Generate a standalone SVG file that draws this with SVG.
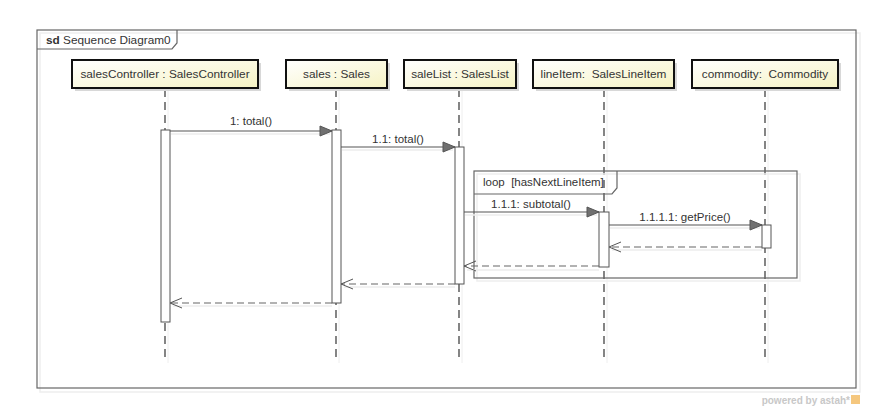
<svg xmlns="http://www.w3.org/2000/svg" width="893" height="415" viewBox="0 0 893 415">
<defs>
<linearGradient id="boxg" x1="0" y1="0" x2="1" y2="1">
<stop offset="0" stop-color="#ffffff"/>
<stop offset="1" stop-color="#f6f3c4"/>
</linearGradient>
<marker id="sync" markerWidth="14" markerHeight="12" refX="13" refY="6" orient="auto" markerUnits="userSpaceOnUse">
<path d="M1,1 L13,6 L1,11 Z" fill="#707070" stroke="#555" stroke-width="1"/>
</marker>
<marker id="open" markerWidth="14" markerHeight="12" refX="13" refY="6" orient="auto" markerUnits="userSpaceOnUse">
<path d="M1,1 L13,6 L1,11" fill="none" stroke="#555" stroke-width="1"/>
</marker>
</defs>
<style>
text{font-family:"Liberation Sans",Arial,sans-serif;fill:#333;}
.lbl{font-size:11.8px;text-anchor:middle;}
.msgl{font-size:11.5px;text-anchor:middle;}
.box{fill:url(#boxg);stroke:#111;stroke-width:2;}
.shadow{fill:#d8d8d8;}
.life{stroke:#444;stroke-width:1.3;stroke-dasharray:8,5;fill:none;}
.lifesh{stroke:#eee;stroke-width:1;fill:none;}
.act{fill:#fff;stroke:#555;stroke-width:1;}
.msg{stroke:#555;stroke-width:1.2;fill:none;}
.ret{stroke:#666;stroke-width:1.2;stroke-dasharray:7,4;fill:none;}
.sh{stroke:#ececec;stroke-width:1.5;fill:none;}
.frame{fill:none;stroke:#666;stroke-width:1.2;}
</style>
<rect width="893" height="415" fill="#fff"/>
<g id="frame">
<rect x="40" y="33" width="820" height="359" fill="none" stroke="#eee" stroke-width="1.5"/>
<rect x="37" y="30" width="819" height="358" fill="#fff" class="frame"/>
<path d="M37,49 L172,49 L177,43 L177,30" class="frame"/>
<text x="46" y="44" font-size="11.8"><tspan font-weight="bold">sd</tspan> Sequence Diagram0</text>
</g>
<g id="lifelines">
<line x1="168" y1="91" x2="168" y2="363" class="lifesh"/>
<line x1="339" y1="91" x2="339" y2="363" class="lifesh"/>
<line x1="462" y1="91" x2="462" y2="363" class="lifesh"/>
<line x1="607" y1="91" x2="607" y2="363" class="lifesh"/>
<line x1="768" y1="91" x2="768" y2="363" class="lifesh"/>
<line x1="165" y1="89" x2="165" y2="360" class="life"/>
<line x1="336" y1="89" x2="336" y2="360" class="life"/>
<line x1="459" y1="89" x2="459" y2="360" class="life"/>
<line x1="604" y1="89" x2="604" y2="360" class="life"/>
<line x1="765" y1="89" x2="765" y2="360" class="life"/>
</g>
<g id="salesController">
<rect x="75" y="63" width="186" height="28" class="shadow"/>
<rect x="72" y="60" width="186" height="28" class="box"/>
<text x="165" y="78" class="lbl">salesController : SalesController</text>
</g>
<g id="sales">
<rect x="289" y="63" width="101" height="28" class="shadow"/>
<rect x="286" y="60" width="101" height="28" class="box"/>
<text x="336.5" y="78" class="lbl">sales : Sales</text>
</g>
<g id="saleList">
<rect x="407" y="63" width="112" height="28" class="shadow"/>
<rect x="404" y="60" width="112" height="28" class="box"/>
<text x="460" y="78" class="lbl">saleList : SalesList</text>
</g>
<g id="lineItem">
<rect x="536" y="63" width="141" height="28" class="shadow"/>
<rect x="533" y="60" width="141" height="28" class="box"/>
<text x="603.5" y="78" class="lbl" xml:space="preserve">lineItem:  SalesLineItem</text>
</g>
<g id="commodity">
<rect x="695" y="63" width="146" height="28" class="shadow"/>
<rect x="692" y="60" width="146" height="28" class="box"/>
<text x="765" y="78" class="lbl" xml:space="preserve">commodity:  Commodity</text>
</g>
<g id="loop">
<rect x="477" y="174" width="323" height="107" fill="none" stroke="#eee" stroke-width="1.5"/>
<rect x="474" y="171" width="323" height="107" class="frame"/>
<path d="M474,194 L612,194 L617,188 L617,171" class="frame"/>
<text x="483" y="186" font-size="11.5" xml:space="preserve">loop  [hasNextLineItem]</text>
</g>
<g id="activations">
<rect x="161" y="130" width="9" height="192" class="act"/>
<rect x="332" y="130" width="9" height="173" class="act"/>
<rect x="455" y="147" width="9" height="137" class="act"/>
<rect x="599" y="212" width="10" height="55" class="act"/>
<rect x="762" y="225" width="9" height="23" class="act"/>
</g>
<g id="connectors">
<line x1="171" y1="134" x2="330" y2="134" class="sh"/>
<line x1="342" y1="150" x2="453" y2="150" class="sh"/>
<line x1="465" y1="215" x2="597" y2="215" class="sh"/>
<line x1="610" y1="228" x2="760" y2="228" class="sh"/>
<line x1="612" y1="250" x2="762" y2="250" class="sh"/>
<line x1="467" y1="270" x2="599" y2="270" class="sh"/>
<line x1="344" y1="287" x2="455" y2="287" class="sh"/>
<line x1="173" y1="306" x2="332" y2="306" class="sh"/>
<line x1="170" y1="131" x2="332" y2="131" class="msg" marker-end="url(#sync)"/>
<text x="251" y="125" class="msgl">1: total()</text>
<line x1="341" y1="147" x2="455" y2="147" class="msg" marker-end="url(#sync)"/>
<text x="398" y="143" class="msgl">1.1: total()</text>
<line x1="464" y1="212" x2="599" y2="212" class="msg" marker-end="url(#sync)"/>
<text x="531" y="208" class="msgl">1.1.1: subtotal()</text>
<line x1="609" y1="225" x2="762" y2="225" class="msg" marker-end="url(#sync)"/>
<text x="685" y="221" class="msgl">1.1.1.1: getPrice()</text>
<line x1="762" y1="247" x2="609" y2="247" class="ret" marker-end="url(#open)"/>
<line x1="599" y1="266" x2="464" y2="266" class="ret" marker-end="url(#open)"/>
<line x1="455" y1="284" x2="341" y2="284" class="ret" marker-end="url(#open)"/>
<line x1="332" y1="303" x2="170" y2="303" class="ret" marker-end="url(#open)"/>
</g>
<g id="footer">
<text x="850" y="404" font-size="10" font-weight="bold" style="fill:#c8c8c8;text-anchor:end;">powered by astah*</text>
<rect x="851" y="395" width="9" height="9" fill="#f5c77e"/>
</g>
</svg>
